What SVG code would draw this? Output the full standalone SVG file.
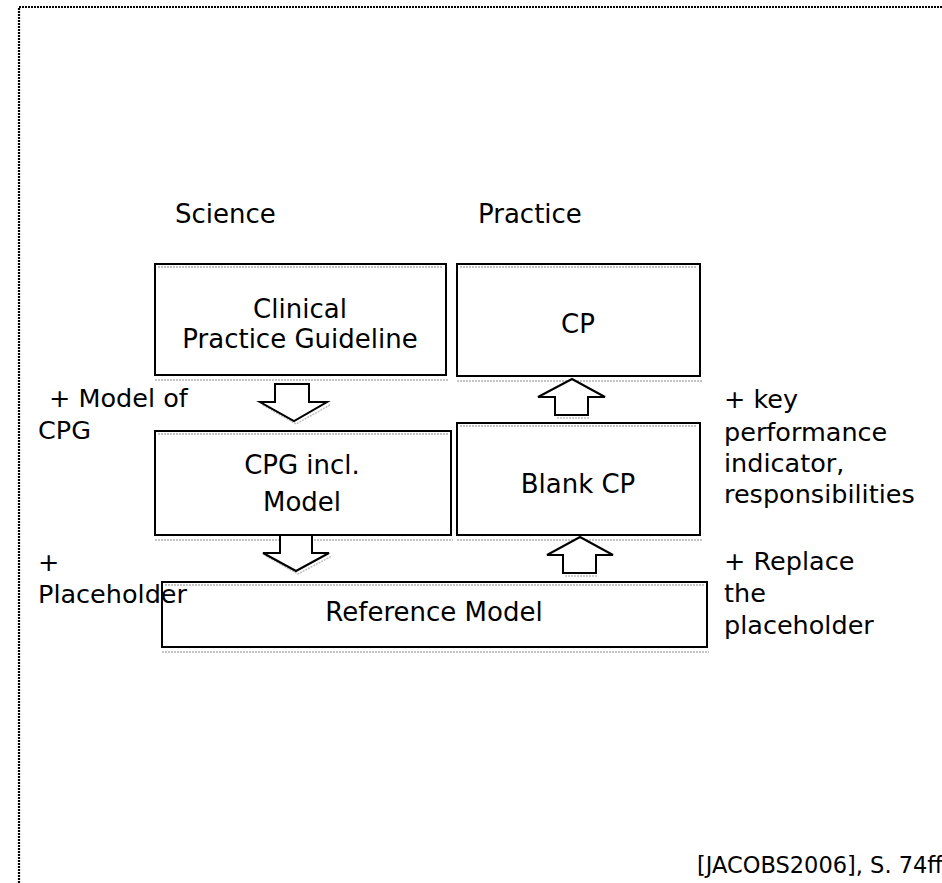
<svg xmlns="http://www.w3.org/2000/svg" width="942" height="883" viewBox="0 0 942 883">
  <style>
    .t { font-family: "DejaVu Sans", Verdana, sans-serif; font-size: 25.5px; fill: #000; }
    .c { text-anchor: middle; font-size: 26px; }
    .box { fill: #fff; stroke: #000; stroke-width: 2; }
    .sh { fill: none; stroke: #b0b0b0; stroke-width: 1.5; stroke-dasharray: 2 1; }
    .arr { fill: #fff; stroke: #000; stroke-width: 2; stroke-linejoin: miter; }
    .ash { fill: none; stroke: #c0c0c0; stroke-width: 1.5; stroke-dasharray: 2 1; }
    .frame { fill: none; stroke: #000; stroke-width: 2.2; stroke-dasharray: 2 1; }
  </style>

  <rect width="942" height="883" fill="#fff"/>

  <g id="frame">
    <path class="frame" d="M19,883 V7 H942"/>
  </g>

  <g id="headers">
    <text class="t" x="175" y="223" style="font-size:26px">Science</text>
    <text class="t" x="478" y="223" style="font-size:26px">Practice</text>
  </g>

  <g id="node-cpg">
    <rect class="box" x="155" y="264" width="291" height="111"/>
    <line class="sh" x1="158" y1="267" x2="443" y2="267"/>
    <line class="sh" x1="155" y1="380" x2="448" y2="380"/>
    <text class="t c" x="300" y="318">Clinical</text>
    <text class="t c" x="300" y="348">Practice Guideline</text>
  </g>

  <g id="node-cp">
    <rect class="box" x="457" y="264" width="243" height="112"/>
    <line class="sh" x1="460" y1="267" x2="697" y2="267"/>
    <line class="sh" x1="457" y1="381" x2="702" y2="381"/>
    <text class="t c" x="578" y="333">CP</text>
  </g>

  <g id="node-cpg-model">
    <rect class="box" x="155" y="431" width="296" height="104"/>
    <line class="sh" x1="158" y1="434" x2="448" y2="434"/>
    <line class="sh" x1="155" y1="540" x2="453" y2="540"/>
    <text class="t c" x="302" y="474">CPG incl.</text>
    <text class="t c" x="302" y="511">Model</text>
  </g>

  <g id="node-blank-cp">
    <rect class="box" x="457" y="423" width="243" height="112"/>
    <line class="sh" x1="460" y1="426" x2="697" y2="426"/>
    <line class="sh" x1="457" y1="540" x2="702" y2="540"/>
    <text class="t c" x="578" y="493">Blank CP</text>
  </g>

  <g id="node-reference">
    <rect class="box" x="162" y="582" width="545" height="65"/>
    <line class="sh" x1="165" y1="585" x2="704" y2="585"/>
    <line class="sh" x1="162" y1="652" x2="709" y2="652"/>
    <text class="t c" x="434" y="621">Reference Model</text>
  </g>

  <g id="connectors">
    <polyline class="ash" points="263,405 296,424 330,405"/>
    <polygon class="arr" points="275,384 309,384 309,402 327,402 294,421 260,402 275,402"/>
    <polyline class="ash" points="266,556 298,574 332,556"/>
    <polygon class="arr" points="280,535 312,535 312,553 329,553 296,571 263,553 280,553"/>
    <polyline class="ash" points="557,418 590,418"/>
    <polygon class="arr" points="555,415 588,415 588,397 605,397 572,379 538,397 555,397"/>
    <polyline class="ash" points="565,576 598,576"/>
    <polygon class="arr" points="563,573 596,573 596,555 613,555 580,537 547,555 563,555"/>
  </g>

  <g id="annotations">
    <text class="t" x="49" y="407">+ Model of</text>
    <text class="t" x="38" y="439">CPG</text>
    <text class="t" x="38" y="571">+</text>
    <text class="t" x="38" y="603">Placeholder</text>
    <text class="t" x="724" y="408">+ key</text>
    <text class="t" x="724" y="441">performance</text>
    <text class="t" x="724" y="472">indicator,</text>
    <text class="t" x="724" y="503">responsibilities</text>
    <text class="t" x="724" y="570">+ Replace</text>
    <text class="t" x="724" y="602">the</text>
    <text class="t" x="724" y="634">placeholder</text>
    <text class="t" x="697" y="873" style="font-size:22.5px">[JACOBS2006], S. 74ff</text>
  </g>
</svg>
